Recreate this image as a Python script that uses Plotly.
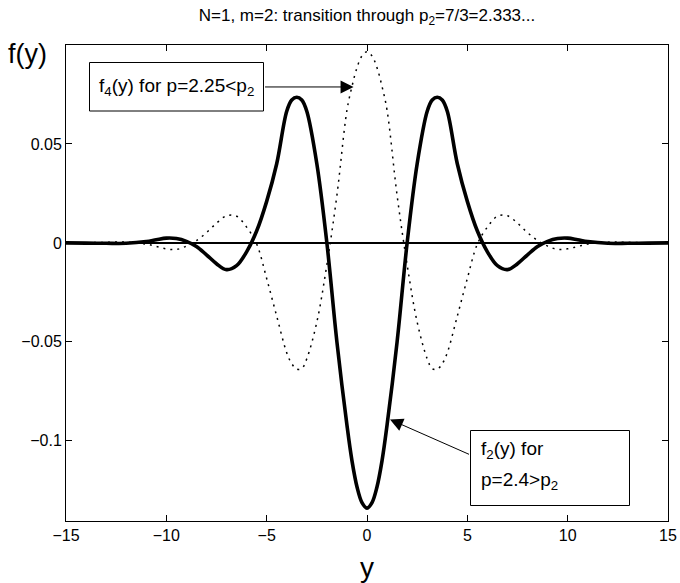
import plotly.graph_objects as go

# Sample positions along y
y_pts = [-15, -14, -13, -12, -11, -10.5, -10, -9.5, -9, -8.5, -8, -7.5, -7, -6.5, -6,
         -5.5, -5, -4.5, -4, -3.75, -3.5, -3.25, -3, -2.5, -2, -1.5, -1, -0.75, -0.5, -0.25, 0,
         0.25, 0.5, 0.75, 1, 1.5, 2, 2.5, 3, 3.25, 3.5, 3.75, 4, 4.5, 5, 5.5, 6, 6.5, 7, 7.5,
         8, 8.5, 9, 9.5, 10, 10.5, 11, 12, 13, 14, 15]

# f_2(y), p = 2.4 > p_2 (solid)
f2_vals = [0.0, -0.0001, -0.0002, -0.0002, 0.0007, 0.0016, 0.0024, 0.0022, 0.0008, -0.0018,
           -0.0060, -0.0105, -0.0135, -0.0115, -0.0045,
           0.0060, 0.0210, 0.0400, 0.0665, 0.0722, 0.0736, 0.0722, 0.0665, 0.0400, 0.0000,
           -0.0500, -0.0920, -0.1100, -0.1232, -0.1312, -0.1340,
           -0.1312, -0.1232, -0.1100, -0.0920, -0.0500, 0.0000, 0.0400, 0.0665, 0.0722, 0.0736,
           0.0722, 0.0665, 0.0400, 0.0210, 0.0060, -0.0045, -0.0115, -0.0135, -0.0105,
           -0.0060, -0.0018, 0.0008, 0.0022, 0.0024, 0.0016, 0.0007, -0.0002, -0.0002, -0.0001, 0.0]

# f_4(y), p = 2.25 < p_2 (dotted)
f4_vals = [0.0, 0.0001, 0.0003, 0.0004, -0.0006, -0.0018, -0.0030, -0.0033, -0.0016, 0.0012,
           0.0052, 0.0100, 0.0137, 0.0135, 0.0080,
           -0.0005, -0.0180, -0.0370, -0.0555, -0.0610, -0.0638, -0.0635, -0.0585, -0.0400, -0.0110,
           0.0240, 0.0670, 0.0790, 0.0885, 0.0945, 0.0966,
           0.0945, 0.0885, 0.0790, 0.0670, 0.0240, -0.0110, -0.0400, -0.0585, -0.0635, -0.0638,
           -0.0610, -0.0555, -0.0370, -0.0180, -0.0005, 0.0080, 0.0135, 0.0137, 0.0100,
           0.0052, 0.0012, -0.0016, -0.0033, -0.0030, -0.0018, -0.0006, 0.0004, 0.0003, 0.0001, 0.0]

x_ticks = [-15, -10, -5, 0, 5, 10, 15]
y_ticks = [-0.1, -0.05, 0, 0.05]


def fmt(v):
    s = f"{v:g}"
    return s.replace("-", "\u2212")


FONT = "Liberation Sans, Arial, Helvetica, sans-serif"
W, H = 680, 583
L, R, T, B = 66, 12, 45, 62
PW, PH = W - L - R, H - T - B


def px(xp):
    return (xp - L) / PW


def py(yp):
    return (H - B - yp) / PH


fig = go.Figure()
fig.add_trace(go.Scatter(x=y_pts, y=f4_vals, mode="lines", line_shape="spline",
                         line=dict(color="black", width=1.5, dash="2px,5px"),
                         showlegend=False, hoverinfo="skip"))
fig.add_trace(go.Scatter(x=y_pts, y=f2_vals, mode="lines", line_shape="spline",
                         line=dict(color="black", width=3.6),
                         showlegend=False, hoverinfo="skip"))

axis_common = dict(showgrid=False, showline=True, linecolor="black", linewidth=1,
                   mirror="ticks", ticks="inside", ticklen=6, tickcolor="black",
                   automargin=False,
                   tickfont=dict(family=FONT, size=16, color="black"))

fig.update_xaxes(range=[-15, 15], tickvals=x_ticks, ticktext=[fmt(v) for v in x_ticks],
                 zeroline=False, **axis_common)
fig.update_yaxes(range=[-0.1405, 0.1], tickvals=y_ticks, ticktext=[fmt(v) for v in y_ticks],
                 zeroline=True, zerolinecolor="black", zerolinewidth=1.5, **axis_common)

shapes = [
    dict(type="rect", xref="paper", yref="paper", x0=px(89.5), x1=px(263.5), y0=py(111), y1=py(62.5),
         line=dict(color="black", width=1), fillcolor="white", layer="above"),
    dict(type="rect", xref="paper", yref="paper", x0=px(470.5), x1=px(629.5), y0=py(505.5), y1=py(430.5),
         line=dict(color="black", width=1), fillcolor="white", layer="above"),
]

ann_font = dict(family=FONT, size=19, color="black")
annotations = [
    dict(xref="paper", yref="paper", x=px(97), y=py(87), xanchor="left", yanchor="middle",
         text="f<sub>4</sub>(y) for p=2.25<p<sub>2</sub>", showarrow=False, font=ann_font),
    dict(xref="paper", yref="paper", x=px(479), y=py(450), xanchor="left", yanchor="middle",
         text="f<sub>2</sub>(y) for", showarrow=False, font=ann_font),
    dict(xref="paper", yref="paper", x=px(479), y=py(481), xanchor="left", yanchor="middle",
         text="p=2.4>p<sub>2</sub>", showarrow=False, font=ann_font),
    # arrows
    dict(x=-0.67, y=0.0788, xref="x", yref="y", ax=-90, ay=0, text="", showarrow=True,
         arrowhead=2, arrowsize=2.6, arrowwidth=1, arrowcolor="black"),
    dict(x=1.146, y=-0.0892, xref="x", yref="y", ax=80.5, ay=35.5, text="", showarrow=True,
         arrowhead=2, arrowsize=2.6, arrowwidth=1, arrowcolor="black"),
    # axis labels
    dict(xref="paper", yref="paper", x=px(6), y=py(54), xanchor="left", yanchor="middle",
         text="f(y)", showarrow=False, font=dict(family=FONT, size=27, color="black")),
    dict(xref="paper", yref="paper", x=px(367), y=py(567), xanchor="center", yanchor="middle",
         text="y", showarrow=False, font=dict(family=FONT, size=28, color="black")),
]

fig.update_layout(
    width=W, height=H,
    margin=dict(l=L, r=R, t=T, b=B),
    paper_bgcolor="white", plot_bgcolor="white",
    title=dict(text="N=1, m=2: transition through p<sub>2</sub>=7/3=2.333...",
               x=px(367), xref="paper", xanchor="center",
               y=1 - 15 / H, yref="container", yanchor="middle",
               font=dict(family=FONT, size=17, color="black")),
    shapes=shapes,
    annotations=annotations,
)

fig.write_html("out.html")
